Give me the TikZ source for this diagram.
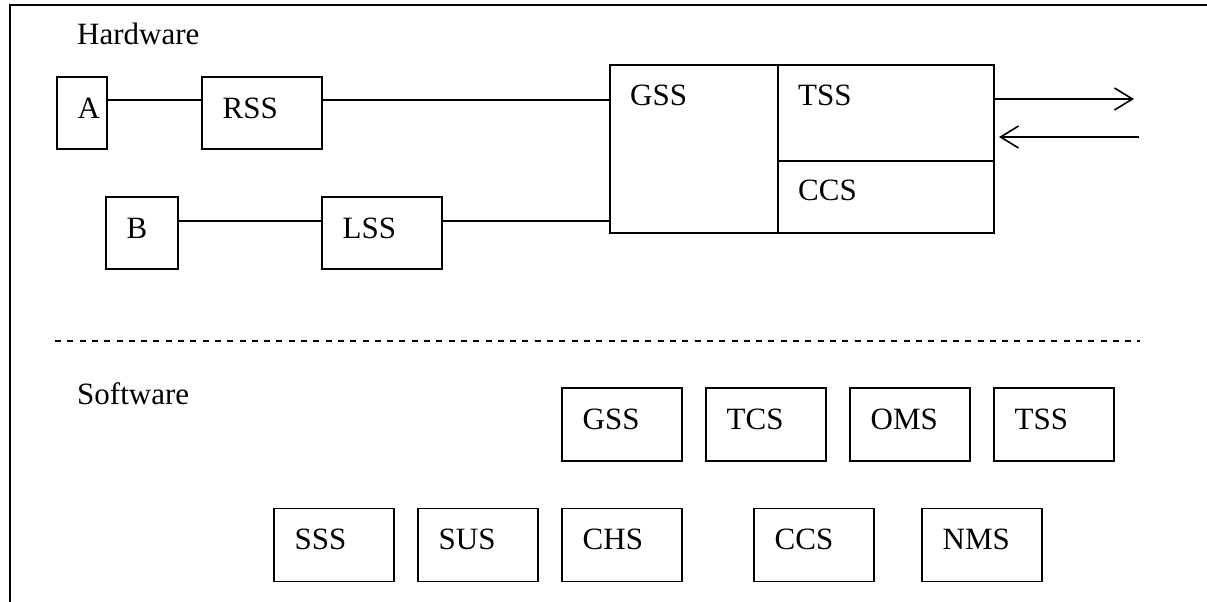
\documentclass[tikz,border=0pt]{standalone}
\usepackage{fontspec}
\setmainfont{Liberation Serif}
\usetikzlibrary{arrows.meta,calc}
\begin{document}
\begin{tikzpicture}[x=1pt,y=-1pt,
  box/.style={draw, line width=1.8pt, rectangle, inner sep=0pt, outer sep=0pt},
  lbl/.style={anchor=base west, inner sep=0pt, font=\fontsize{31}{36}\selectfont},
  wire/.style={line width=1.8pt},
  arr/.style={line width=1.8pt, -{Straight Barb[length=18pt,width=22pt,line width=1.6pt]}},
  sep/.style={line width=1.8pt, dash pattern=on 6pt off 6.3pt}
]
\useasboundingbox (0,0) rectangle (1207,602);
% frame
\draw[line width=2pt] (1207,5) -- (10,5) -- (10,602);

\newcommand\mkbox[6]{%
  \node[box, minimum width=#4pt, minimum height=#5pt] (#1) at (#2,#3) {};
  \node[lbl] (#1-t) at ($(#1.north west)+(20.5,41)$) {#6};}

% Hardware
\node[lbl] (hw) at (77,45) {Hardware};
\mkbox{a}{82}{113}{50}{72}{A}
\mkbox{rss}{262}{113}{120}{72}{RSS}
\mkbox{b}{142}{233}{72}{72}{B}
\mkbox{lss}{382}{233}{120}{72}{LSS}
\node[box, minimum width=168pt, minimum height=168pt] (gss) at (694,149) {};
\node[lbl] (gss-t) at ($(gss.north west)+(20,40)$) {GSS};
\node[box, minimum width=216pt, minimum height=96pt] (tss) at (886,113) {};
\node[lbl] (tss-t) at ($(tss.north west)+(20,40)$) {TSS};
\node[box, minimum width=216pt, minimum height=72pt] (ccs) at (886,197) {};
\node[lbl] (ccs-t) at ($(ccs.north west)+(20,39)$) {CCS};

\coordinate (p1) at ($(a.east)+(0,-13)$);
\coordinate (p2) at ($(rss.east)+(0,-13)$);
\coordinate (p3) at ($(b.east)+(0,-12)$);
\coordinate (p4) at ($(lss.east)+(0,-12)$);
\draw[wire] (p1) -- (p1 -| rss.west);
\draw[wire] (p2) -- (p2 -| gss.west);
\draw[wire] (p3) -- (p3 -| lss.west);
\draw[wire] (p4) -- (p4 -| gss.west);

\coordinate (o1) at ($(tss.east)+(0,-14)$);
\coordinate (o2) at (1134,99);
\coordinate (i1) at (1139,137);
\coordinate (i2) at ($(tss.east)+(5,24)$);
\draw[arr] (o1) -- (o2);
\draw[arr] (i1) -- (i2);

% separator
\draw[sep] (55,341) -- (1140,341);

% Software
\node[lbl] (sw) at (77,404) {Software};
\mkbox{sgss}{622}{424.5}{120}{73}{GSS}
\mkbox{stcs}{766}{424.5}{120}{73}{TCS}
\mkbox{soms}{910}{424.5}{120}{73}{OMS}
\mkbox{stss}{1054}{424.5}{120}{73}{TSS}
\mkbox{ssss}{334}{545}{120}{73}{SSS}
\mkbox{ssus}{478}{545}{120}{73}{SUS}
\mkbox{schs}{622}{545}{120}{73}{CHS}
\mkbox{sccs}{814}{545}{120}{73}{CCS}
\mkbox{snms}{982}{545}{120}{73}{NMS}
\end{tikzpicture}
\end{document}
